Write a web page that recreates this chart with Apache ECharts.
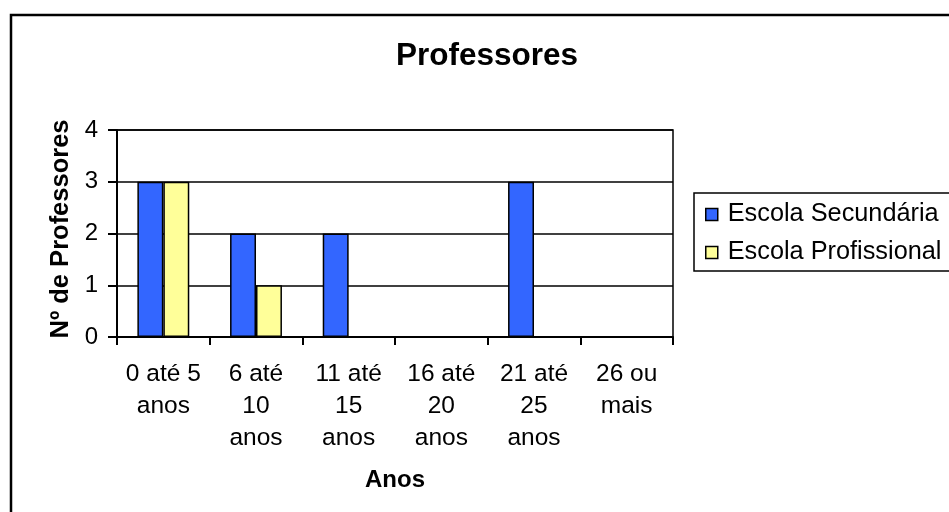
<!DOCTYPE html>
<html>
<head>
<meta charset="utf-8">
<script src="https://cdn.jsdelivr.net/npm/echarts@6/dist/echarts.min.js"></script>
<style>
html,body{margin:0;padding:0;background:#fff;}
#chart{width:949px;height:512px;}
</style>
</head>
<body>
<div id="chart"></div>
<script>
const categories = ["0 até 5\nanos", "6 até\n10\nanos", "11 até\n15\nanos", "16 até\n20\nanos", "21 até\n25\nanos", "26 ou\nmais"];
const seriesNames = ["Escola Secundária", "Escola Profissional"];
const secundaria = [3, 2, 2, 0, 3, 0];
const profissional = [3, 1, 0, 0, 0, 0];
const yTicks = [0, 1, 2, 3, 4];

const FONT = "Liberation Sans, Arial, sans-serif";
const chart = echarts.init(document.getElementById('chart'), null, {renderer: 'canvas'});
chart.setOption({
  animation: false,
  backgroundColor: '#fff',
  textStyle: {fontFamily: FONT, color: '#000'},
  title: {
    text: 'Professores',
    left: 396, top: 40,
    padding: 0,
    textStyle: {fontFamily: FONT, fontSize: 31.5, fontWeight: 'bold', color: '#000'}
  },
  graphic: [{
    type: 'rect',
    shape: {x: 11, y: 15, width: 1000, height: 600},
    style: {fill: null, stroke: '#000', lineWidth: 2.5},
    silent: true, z: -1
  }],
  legend: {
    orient: 'vertical',
    left: 694, top: 193,
    padding: [9, 12, 6, 11],
    itemGap: 13,
    itemWidth: 12, itemHeight: 12,
    icon: 'rect',
    borderColor: '#000', borderWidth: 1.5,
    backgroundColor: '#fff',
    itemStyle: {borderColor: '#000', borderWidth: 1.5},
    textStyle: {fontFamily: FONT, fontSize: 25.3, color: '#000', padding: [0, 0, 0, 5]},
    data: seriesNames
  },
  grid: {
    left: 117, top: 130, right: 276, bottom: 175,
    show: true, borderColor: '#000', borderWidth: 1.5, backgroundColor: '#fff'
  },
  xAxis: {
    type: 'category',
    data: categories,
    name: 'Anos',
    nameLocation: 'middle',
    nameGap: 131,
    nameTextStyle: {fontFamily: FONT, fontSize: 24, fontWeight: 'bold', color: '#000', verticalAlign: 'top'},
    axisLine: {lineStyle: {color: '#000', width: 2}},
    axisTick: {show: true, length: 8, lineStyle: {color: '#000', width: 2}},
    axisLabel: {fontFamily: FONT, fontSize: 24.5, color: '#000', lineHeight: 32, margin: 21, align: 'center', interval: 0}
  },
  yAxis: {
    type: 'value',
    min: yTicks[0], max: yTicks[yTicks.length - 1], interval: 1,
    name: 'Nº de Professores',
    nameLocation: 'middle',
    nameGap: 42,
    nameTextStyle: {fontFamily: FONT, fontSize: 25.5, fontWeight: 'bold', color: '#000', padding: [0, 0, 0, 9]},
    axisLine: {show: true, lineStyle: {color: '#000', width: 2}},
    axisTick: {show: true, length: 9, lineStyle: {color: '#000', width: 2}},
    axisLabel: {fontFamily: FONT, fontSize: 24, color: '#000', margin: 19},
    splitLine: {show: true, lineStyle: {color: '#000', width: 1.5}}
  },
  series: [
    {
      name: seriesNames[0], type: 'bar', data: secundaria,
      barGap: '0%', barCategoryGap: '44%',
      itemStyle: {color: '#3366FF', borderColor: '#000', borderWidth: 1.5}
    },
    {
      name: seriesNames[1], type: 'bar', data: profissional,
      barGap: '0%', barCategoryGap: '44%',
      itemStyle: {color: '#FFFF99', borderColor: '#000', borderWidth: 1.5}
    }
  ]
});
</script>
</body>
</html>
